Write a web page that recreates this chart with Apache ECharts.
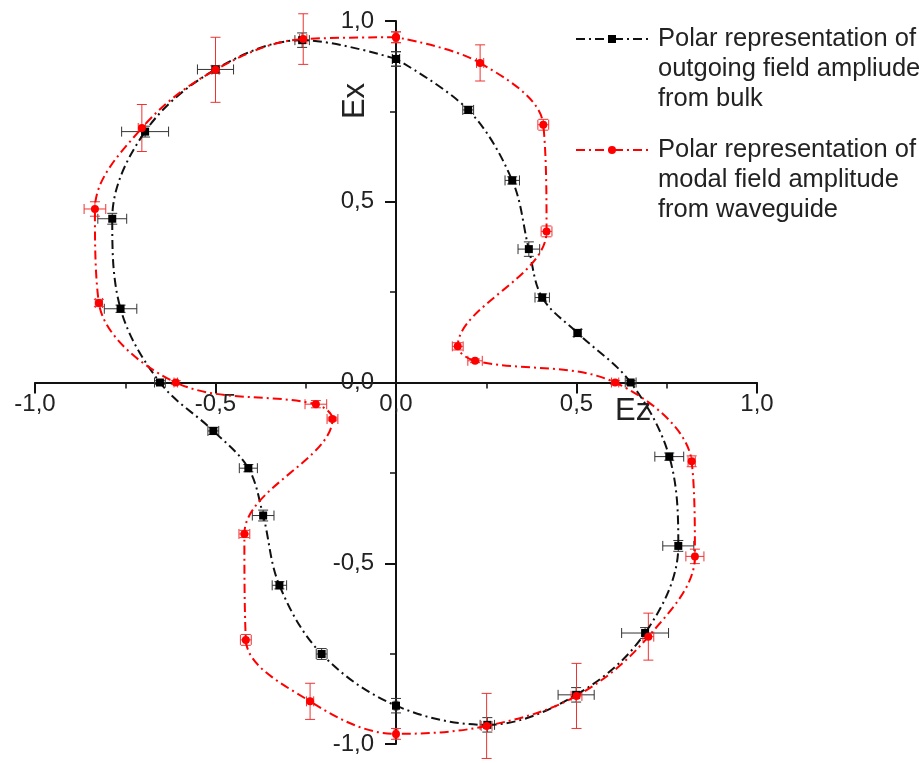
<!DOCTYPE html>
<html>
<head>
<meta charset="utf-8">
<script src="https://cdn.jsdelivr.net/npm/echarts@6/dist/echarts.min.js"></script>
<style>
  html, body { margin: 0; padding: 0; background: #fff; }
  #chart { width: 919px; height: 763px; }
</style>
</head>
<body>
<div id="chart"></div>
<script>
// 角度顺序: 90, 105, ... 345, 0, 15, ... 90 (闭合)
const angles = [90, 105, 120, 135, 150, 165, 180, 195, 210, 225, 240, 255, 270,
  285, 300, 315, 330, 345, 0, 15, 30, 45, 60, 75, 90];

// bulk (黑色)
const bulkEz = [0, -0.26, -0.50, -0.695, -0.786, -0.763, -0.654, -0.506, -0.409, -0.368, -0.323, -0.206, 0,
  0.253, 0.499, 0.690, 0.782, 0.757, 0.650, 0.503, 0.405, 0.368, 0.322, 0.200, 0];
const bulkEx = [0.895, 0.947, 0.866, 0.694, 0.453, 0.204, 0, -0.134, -0.237, -0.368, -0.561, -0.751, -0.894,
  -0.947, -0.864, -0.693, -0.452, -0.205, 0, 0.137, 0.235, 0.369, 0.559, 0.754, 0.895];
const bulkEzErr = [0.01, 0.02, 0.05, 0.065, 0.04, 0.045, 0.015, 0.015, 0.025, 0.03, 0.02, 0.015, 0.005,
  0.02, 0.05, 0.065, 0.043, 0.04, 0.015, 0.01, 0.02, 0.03, 0.02, 0.015, 0.01];
const bulkExErr = [0.02, 0.02, 0.01, 0.015, 0.015, 0.01, 0.005, 0.01, 0.01, 0.015, 0.01, 0.015, 0.02,
  0.02, 0.02, 0.015, 0.015, 0.01, 0.005, 0.01, 0.01, 0.02, 0.01, 0.01, 0.02];

// waveguide (红色)
const guideEz = [0, -0.257, -0.50, -0.704, -0.834, -0.823, -0.610, -0.222, -0.176, -0.420, -0.416, -0.238, 0,
  0.251, 0.500, 0.699, 0.828, 0.819, 0.607, 0.219, 0.171, 0.417, 0.408, 0.233, 0];
const guideEx = [0.955, 0.950, 0.865, 0.704, 0.480, 0.220, 0, -0.060, -0.101, -0.419, -0.712, -0.882, -0.972,
  -0.950, -0.867, -0.703, -0.481, -0.218, 0, 0.060, 0.100, 0.418, 0.713, 0.884, 0.955];
const guideEzErr = [0.005, 0.01, 0.01, 0.01, 0.03, 0.01, 0.005, 0.03, 0.015, 0.015, 0.015, 0.01, 0.005,
  0.015, 0.015, 0.015, 0.025, 0.01, 0.01, 0.02, 0.015, 0.015, 0.015, 0.01, 0.005];
const guideExErr = [0.015, 0.07, 0.09, 0.065, 0.02, 0.01, 0.005, 0.01, 0.005, 0.01, 0.015, 0.05, 0.015,
  0.09, 0.09, 0.065, 0.02, 0.015, 0.005, 0.005, 0.01, 0.015, 0.015, 0.05, 0.015];

const bulkName = 'Polar representation of\noutgoing field ampliude\nfrom bulk';
const guideName = 'Polar representation of\nmodal field amplitude\nfrom waveguide';

const pts = (xs, ys) => xs.map((x, i) => [x, ys[i]]);
const errPts = (xs, ys, dxs, dys) => xs.map((x, i) => [x, ys[i], dxs[i], dys[i]]);

// 误差棒
const errorBar = (color) => (params, api) => {
  const x = api.value(0), y = api.value(1), dx = api.value(2), dy = api.value(3);
  const l = api.coord([x - dx, y]);
  const r = api.coord([x + dx, y]);
  const t = api.coord([x, y + dy]);
  const b = api.coord([x, y - dy]);
  const cap = 5;
  const style = { stroke: color, lineWidth: 1 };
  const children = [];
  if (r[0] - l[0] > 2) {
    children.push(
      { type: 'line', shape: { x1: l[0], y1: l[1], x2: r[0], y2: r[1] }, style },
      { type: 'line', shape: { x1: l[0], y1: l[1] - cap, x2: l[0], y2: l[1] + cap }, style },
      { type: 'line', shape: { x1: r[0], y1: r[1] - cap, x2: r[0], y2: r[1] + cap }, style }
    );
  }
  if (b[1] - t[1] > 2) {
    children.push(
      { type: 'line', shape: { x1: t[0], y1: t[1], x2: b[0], y2: b[1] }, style },
      { type: 'line', shape: { x1: t[0] - cap, y1: t[1], x2: t[0] + cap, y2: t[1] }, style },
      { type: 'line', shape: { x1: b[0] - cap, y1: b[1], x2: b[0] + cap, y2: b[1] }, style }
    );
  }
  return { type: 'group', children };
};

const fmt = (v) => v.toFixed(1).replace('.', ',');

// 坐标系尺寸
const gridLeft = 35, gridRight = 162, gridTop = 21, gridBottom = 19;
const gridW = 919 - gridLeft - gridRight;
const gridH = 763 - gridTop - gridBottom;

const axisCommon = {
  type: 'value',
  min: -1,
  max: 1,
  interval: 0.5,
  splitLine: { show: false },
  axisLine: { onZero: false, lineStyle: { color: '#111', width: 2 } },
  axisTick: { inside: false, length: 11, lineStyle: { color: '#111', width: 2 } },
  minorTick: { show: true, splitNumber: 2, length: 6, lineStyle: { color: '#111', width: 1.5 } },
  axisLabel: {
    color: '#222',
    fontFamily: 'Liberation Sans',
    fontSize: 24,
    formatter: fmt,
    showMinLabel: true,
    showMaxLabel: true
  }
};

let chart = echarts.init(document.getElementById('chart'));
let option = {
  animation: false,
  backgroundColor: '#fff',
  grid: {
    left: gridLeft, right: gridRight, top: gridTop, bottom: gridBottom,
    containLabel: false, outerBoundsMode: 'none'
  },
  // 通过 offset 把坐标轴移到 0 处
  xAxis: Object.assign({}, axisCommon, {
    position: 'bottom',
    offset: -gridH / 2,
    axisLabel: Object.assign({}, axisCommon.axisLabel, { margin: 10 })
  }),
  yAxis: Object.assign({}, axisCommon, {
    position: 'left',
    offset: -gridW / 2,
    axisLabel: Object.assign({}, axisCommon.axisLabel, { margin: 22 })
  }),
  legend: {
    orient: 'vertical',
    left: 575,
    top: 26,
    padding: 0,
    itemGap: 25,
    itemWidth: 72,
    itemHeight: 10,
    data: [bulkName, guideName],
    formatter: (name) => name.split('\n').map(s => '{t|' + s + '}').join('\n'),
    textStyle: {
      padding: [60, 0, 0, 5],
      rich: {
        t: { fontFamily: 'Liberation Sans', fontSize: 25.5, lineHeight: 30, color: '#222' }
      }
    }
  },
  graphic: [
    {
      type: 'text', left: 615, top: 396,
      style: { text: 'Ez', fontFamily: 'Liberation Sans', fontSize: 31, fill: '#222' }
    },
    {
      type: 'text', x: 355, y: 101, rotation: Math.PI / 2,
      style: { text: 'Ex', fontFamily: 'Liberation Sans', fontSize: 31, fill: '#222', align: 'center', verticalAlign: 'middle' }
    }
  ],
  series: [
    {
      type: 'custom',
      name: 'bulk-err',
      renderItem: errorBar('#333'),
      data: errPts(bulkEz, bulkEx, bulkEzErr, bulkExErr),
      encode: { x: 0, y: 1 },
      silent: true,
      z: 1
    },
    {
      type: 'custom',
      name: 'guide-err',
      renderItem: errorBar('#e33'),
      data: errPts(guideEz, guideEx, guideEzErr, guideExErr),
      encode: { x: 0, y: 1 },
      silent: true,
      z: 1
    },
    {
      name: bulkName,
      type: 'line',
      data: pts(bulkEz, bulkEx),
      smooth: 0.35,
      symbol: 'rect',
      symbolSize: 8,
      itemStyle: { color: '#000' },
      lineStyle: { color: '#111', width: 2, type: [9, 4, 2, 4] },
      z: 2
    },
    {
      name: guideName,
      type: 'line',
      data: pts(guideEz, guideEx),
      smooth: 0.35,
      symbol: 'circle',
      symbolSize: 8,
      itemStyle: { color: '#f00' },
      lineStyle: { color: '#f00', width: 2, type: [9, 4, 2, 4] },
      z: 3
    }
  ]
};
chart.setOption(option);
</script>
</body>
</html>
